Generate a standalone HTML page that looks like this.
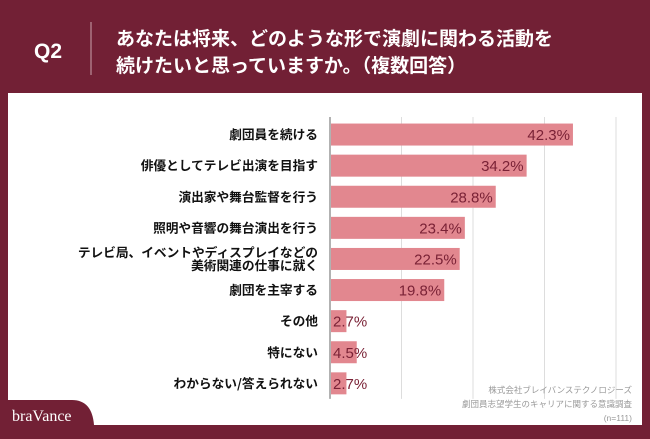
<!DOCTYPE html>
<html><head><meta charset="utf-8"><style>
body{margin:0;width:650px;height:434px;background:#722035;overflow:hidden;font-family:"Liberation Sans","Noto Sans CJK JP",sans-serif;}
</style></head><body>
<svg width="650" height="434" xmlns="http://www.w3.org/2000/svg">
<rect x="0" y="0" width="650" height="434" fill="#722035"/>
<text x="34" y="58" fill="#fff" font-size="21" font-weight="bold">Q2</text>
<line x1="91" y1="22" x2="91" y2="75" stroke="#c9a3ad" stroke-width="1"/>
<text x="116" y="45" fill="#fff" font-size="19" font-weight="bold" font-family="Noto Sans CJK JP, sans-serif">あなたは将来、どのような形で演劇に関わる活動を</text>
<text x="116" y="72" fill="#fff" font-size="19" font-weight="bold" font-family="Noto Sans CJK JP, sans-serif">続けたいと思っていますか。（複数回答）</text>
<rect x="8" y="93" width="634" height="332" fill="#fff"/>
<g id="grid"></g>
<g id="bars"></g>
<text x="632" y="393" fill="#999" font-size="8.5" text-anchor="end" font-family="Noto Sans CJK JP, sans-serif">株式会社ブレイバンステクノロジーズ</text>
<text x="632" y="407" fill="#999" font-size="8.5" text-anchor="end" font-family="Noto Sans CJK JP, sans-serif">劇団員志望学生のキャリアに関する意識調査</text>
<text x="632" y="421" fill="#999" font-size="8.5" text-anchor="end">(n=111)</text>
<path d="M0 425 L0 400 L72 400 Q92 400 94 425 Z" fill="#722035"/>
<rect x="0" y="400" width="8" height="34" fill="#722035"/>
<text x="12" y="421" fill="#fff" font-size="16" font-family="Liberation Serif, serif">braVance</text>
</svg>
<script>
const categories=["劇団員を続ける","俳優としてテレビ出演を目指す","演出家や舞台監督を行う","照明や音響の舞台演出を行う","テレビ局、イベントやディスプレイなどの|美術関連の仕事に就く","劇団を主宰する","その他","特にない","わからない/答えられない"];
const values=[42.3,34.2,28.8,23.4,22.5,19.8,2.7,4.5,2.7];
const gridTicks=[0,12.5,25,37.5,50];
const NS="http://www.w3.org/2000/svg";
const x0=330,pxPer=5.72,yTop=119,rowH=31.1,barH=22;
const xs=v=>x0+v*pxPer, ys=i=>yTop+i*rowH+rowH/2;
const grid=document.getElementById('grid'),bars=document.getElementById('bars');
function mk(t,a,p){const e=document.createElementNS(NS,t);for(const k in a)e.setAttribute(k,a[k]);p.appendChild(e);return e;}
gridTicks.forEach((t,i)=>{const l=mk('line',{x1:xs(t),x2:xs(t),y1:yTop-2,y2:yTop+rowH*9,stroke:i==0?'#666':'#ddd','stroke-width':1},grid);

});
values.forEach((v,i)=>{const cy=ys(i);
const r=mk('rect',{x:x0+1,y:cy-barH/2,width:v*pxPer,height:barH,fill:'#e2878f'},bars);


const w=v*pxPer;const lbl=mk('text',{y:cy+5.5,fill:'#7a2236','font-size':15},bars);
if(w>45){lbl.setAttribute('x',xs(v)-2);lbl.setAttribute('text-anchor','end');}else{lbl.setAttribute('x',x0+3);}
lbl.textContent=v.toFixed(1)+'%';


const parts=categories[i].split('|');
parts.forEach((p,j)=>{const t=mk('text',{x:318,y:cy+4.5+(j-(parts.length-1)/2)*13,'text-anchor':'end','font-size':12.7,'font-weight':'bold',fill:'#111','font-family':'Noto Sans CJK JP, sans-serif'},bars);
t.textContent=p;

});
});
</script>
</body></html>
